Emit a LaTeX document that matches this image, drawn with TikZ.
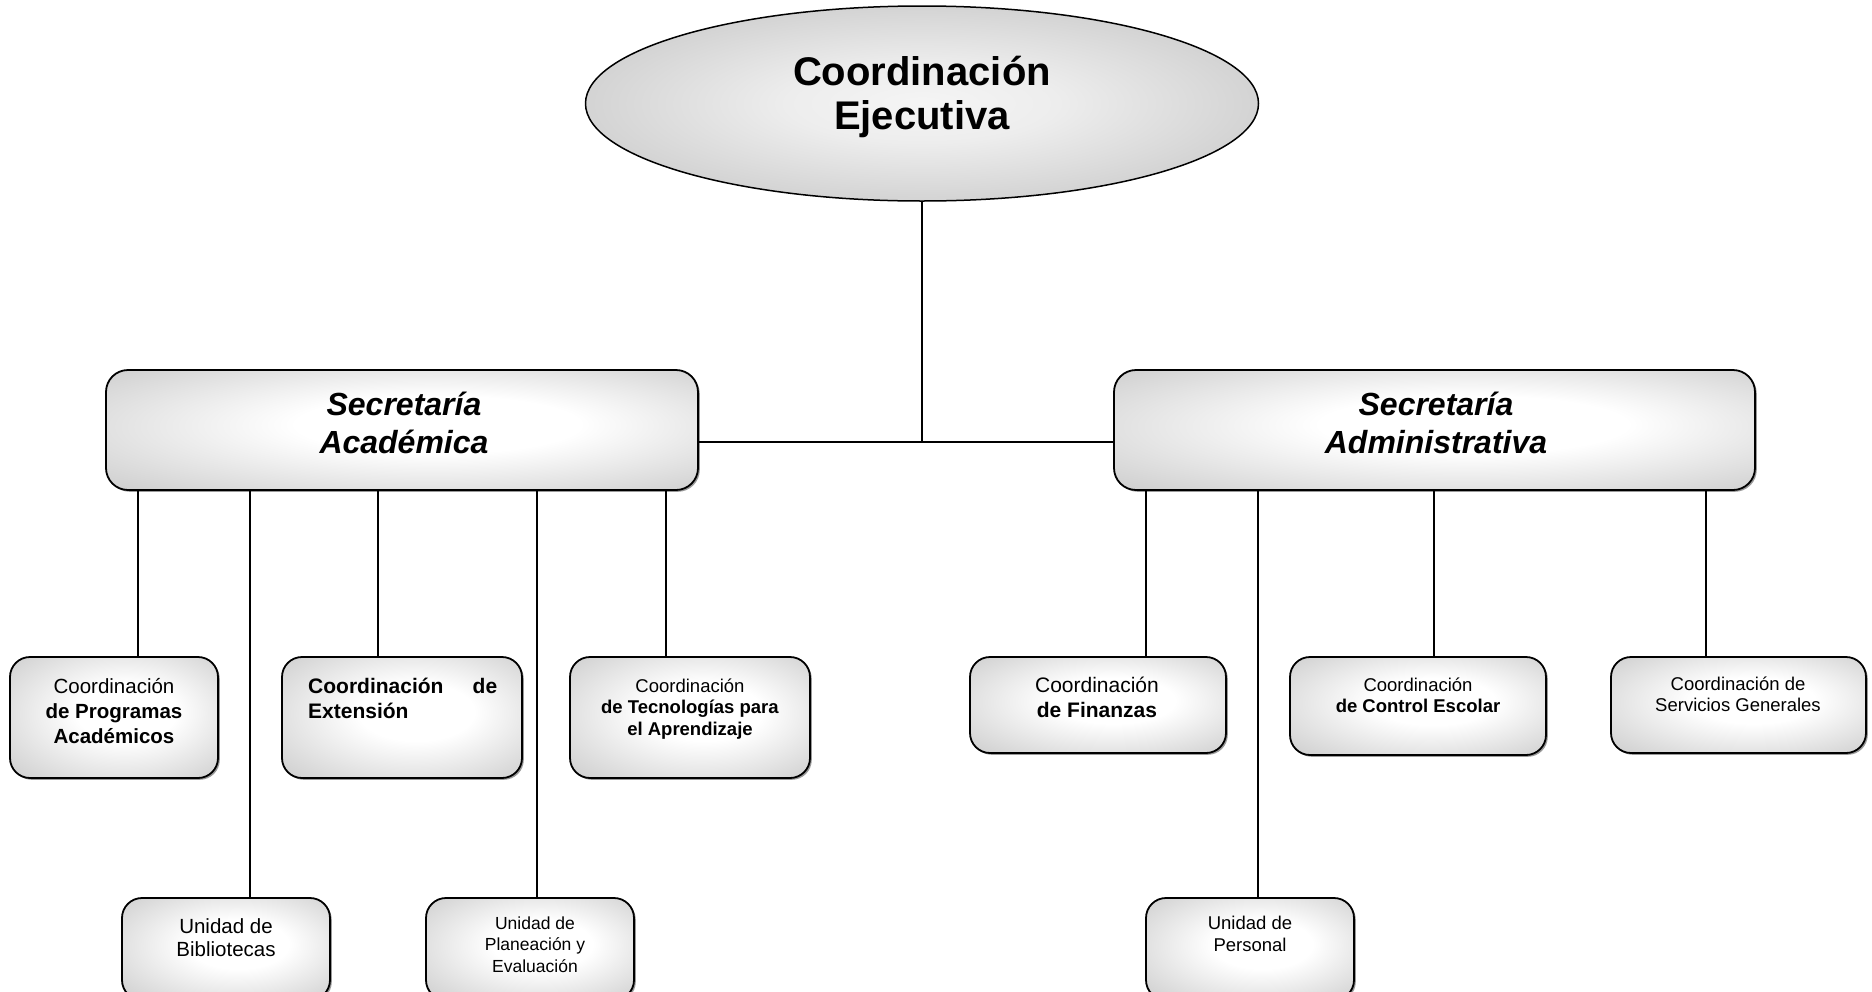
\documentclass[tikz,border=0pt]{standalone}
\usepackage{fontspec}
\setmainfont{Liberation Sans}
\usetikzlibrary{shapes.geometric,shadows}
\newcommand\ctext[1]{\parbox[t]{600pt}{\centering #1}}
\pgfdeclareradialshading{softbox}{\pgfpoint{4bp}{3bp}}{color(0bp)=(white); color(12bp)=(white); color(50bp)=(black!30)}
\pgfdeclareradialshading{softell}{\pgfpoint{0bp}{0bp}}{color(0bp)=(white!96!black); color(10bp)=(white!93!black); color(50bp)=(black!34)}
\tikzset{
  conn/.style={draw=black, line width=1.5pt},
  orgbox/.style={draw=black, line width=1.8pt, rounded corners=20pt, shading=softbox,
    inner sep=0pt,
    drop shadow={shadow xshift=1.8pt, shadow yshift=-1.8pt, opacity=0.4, fill=black}},
  topell/.style={ellipse, draw=black, line width=1.5pt, shading=softell, inner sep=0pt},
  lbl/.style={anchor=base, inner sep=0pt, text=black},
}
\begin{document}
\begin{tikzpicture}[x=1pt, y=-1pt]
\useasboundingbox (0,0) rectangle (1872,991);
\clip (0,0) rectangle (1872,991);
\fill[white] (0,0) rectangle (1872,991);

% top ellipse
\node[topell, minimum width=673pt, minimum height=195pt] (ce) at (922,103.5) {};
\node[lbl, font=\fontsize{40}{44}\selectfont\bfseries] (ceT) at (922,85) {\ctext{Coordinación\\Ejecutiva}};

% secretarias
\node[orgbox, rounded corners=22pt, minimum width=592pt, minimum height=120pt] (sa) at (402,430) {};
\node[orgbox, rounded corners=22pt, minimum width=641pt, minimum height=120pt] (sd) at (1434.5,430) {};
\node[lbl, font=\fontsize{32}{38}\selectfont\bfseries\itshape] (saT) at (404,415) {\ctext{Secretaría\\Académica}};
\node[lbl, font=\fontsize{32}{38}\selectfont\bfseries\itshape] (sdT) at (1436,415) {\ctext{Secretaría\\Administrativa}};

% children boxes
\node[orgbox, minimum width=208pt, minimum height=121pt] (prog) at (114,717.5) {};
\node[orgbox, minimum width=240pt, minimum height=121pt] (ext) at (402,717.5) {};
\node[orgbox, minimum width=240pt, minimum height=121pt] (tec) at (690,717.5) {};
\node[orgbox, minimum width=208pt, minimum height=102pt] (bib) at (226,949) {};
\node[orgbox, minimum width=208pt, minimum height=102pt] (plan) at (530,949) {};
\node[orgbox, minimum width=256pt, minimum height=96pt] (fin) at (1098,705) {};
\node[orgbox, minimum width=256pt, minimum height=98pt] (ctrl) at (1418,706) {};
\node[orgbox, minimum width=255pt, minimum height=96pt] (serv) at (1738.5,705) {};
\node[orgbox, minimum width=208pt, minimum height=102pt] (pers) at (1250,949) {};

% texts
\node[lbl, font=\fontsize{20.5}{25}\selectfont] (progT) at (114,693) {\ctext{Coordinación\\\textbf{de Programas}\\\textbf{Académicos}}};
\node[lbl, anchor=base west, font=\fontsize{21}{25}\selectfont\bfseries] (extT) at (308,693) {\parbox[t]{189pt}{Coordinación\hfill de\\Extensión}};
\node[lbl, font=\fontsize{18.5}{21.5}\selectfont] (tecT) at (690,692) {\ctext{Coordinación\\\textbf{de Tecnologías para}\\\textbf{el Aprendizaje}}};
\node[lbl, font=\fontsize{20.5}{23.5}\selectfont] (bibT) at (226,933) {\ctext{Unidad de\\Bibliotecas}};
\node[lbl, font=\fontsize{17.5}{21.5}\selectfont] (planT) at (535,929) {\ctext{Unidad de\\Planeación y\\Evaluación}};
\node[lbl, font=\fontsize{21}{25}\selectfont] (finT) at (1097,692) {\ctext{Coordinación\\\textbf{de Finanzas}}};
\node[lbl, font=\fontsize{18.5}{21}\selectfont] (ctrlT) at (1418,691) {\ctext{Coordinación\\\textbf{de Control Escolar}}};
\node[lbl, font=\fontsize{18.5}{21.5}\selectfont] (servT) at (1738,690) {\ctext{Coordinación de\\Servicios Generales}};
\node[lbl, font=\fontsize{18.5}{22}\selectfont] (persT) at (1250,929) {\ctext{Unidad de\\Personal}};

% connectors
\path ([yshift=-12pt]sa.east) coordinate (hb);
\draw[conn] (ce.south) -- (ce.south |- hb);
\draw[conn] (hb) -- (hb -| sd.west);
\foreach \c/\dx/\p in {prog/24/sa, bib/24/sa, ext/-24/sa, plan/7/sa, tec/-24/sa,
                       fin/48/sd, pers/8/sd, ctrl/16/sd, serv/-32.5/sd} {
  \path ([xshift=\dx pt]\c.north) coordinate (t\c);
  \draw[conn] (t\c) -- (t\c |- \p.south);
}
\end{tikzpicture}
\end{document}
